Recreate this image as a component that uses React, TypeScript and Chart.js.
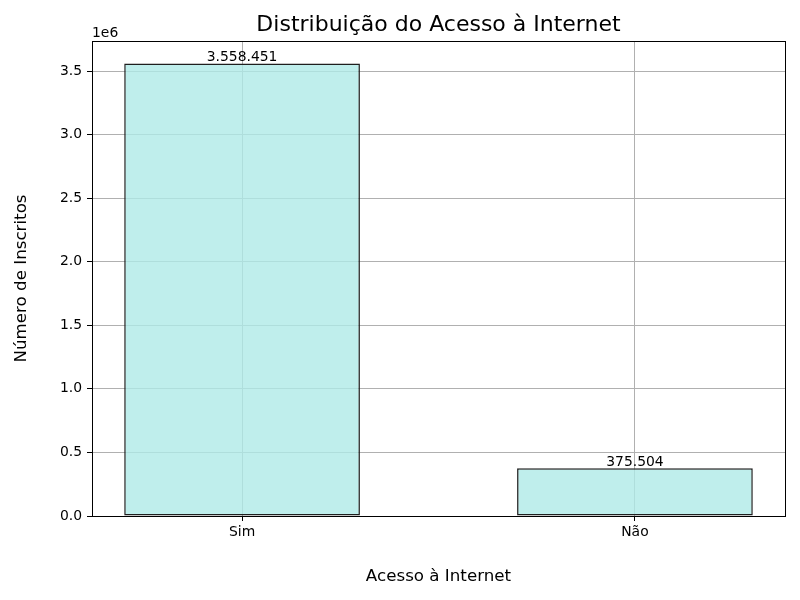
import React, { useEffect, useRef } from "react";
import { Chart, registerables } from "chart.js";

Chart.register(...registerables);

const categories = ["Sim", "Não"];
const inscritos = [3558451, 375504];
const yTickStep = 500000;
const titleText = "Distribuição do Acesso à Internet";
const xTitle = "Acesso à Internet";
const yTitle = "Número de Inscritos";
const offsetText = "1e6";

const FONT = "'DejaVu Sans', sans-serif";

export default function App() {
  const ref = useRef<HTMLCanvasElement | null>(null);
  useEffect(() => {
    if (!ref.current) return;
    const yMax = Math.max(...inscritos) * 1.05;
    const fmt = (v: number) => v.toLocaleString("pt-BR");
    const extras = {
      id: "extras",
      afterDatasetsDraw(chart: any) {
        const { ctx, chartArea } = chart;
        ctx.save();
        const meta = chart.getDatasetMeta(0);
        ctx.fillStyle = "#000";
        ctx.font = `13.9px ${FONT}`;
        ctx.textAlign = "center";
        ctx.textBaseline = "bottom";
        meta.data.forEach((el: any, i: number) => {
          ctx.fillText(fmt(inscritos[i]), el.x, el.y + 1);
        });
        ctx.strokeStyle = "#000";
        ctx.lineWidth = 1;
        ctx.strokeRect(
          Math.round(chartArea.left) + 0.5,
          Math.round(chartArea.top) + 0.5,
          Math.round(chartArea.right - chartArea.left),
          Math.round(chartArea.bottom - chartArea.top)
        );
        ctx.textAlign = "left";
        ctx.textBaseline = "alphabetic";
        ctx.font = `13.9px ${FONT}`;
        ctx.fillText(offsetText, chartArea.left, chartArea.top - 4);
        ctx.textAlign = "center";
        ctx.textBaseline = "middle";
        ctx.font = `22px ${FONT}`;
        ctx.fillText(titleText, (chartArea.left + chartArea.right) / 2, 25);
        ctx.restore();
      },
    };
    const gridOpts = {
      color: "#b0b0b0",
      lineWidth: 1,
      tickColor: "#000",
      tickLength: 5,
      tickWidth: 1,
      offset: false,
    };
    const chart = new Chart(ref.current, {
      type: "bar",
      data: {
        datasets: [
          {
            data: categories.map((c, i) => ({ x: i, y: inscritos[i] })),
            backgroundColor: "rgba(175,234,231,0.8)",
            borderColor: "#1f1f1f",
            borderWidth: 1.5,
            borderSkipped: false,
            categoryPercentage: 1,
            barPercentage: 0.6,
          },
        ],
      },
      options: {
        responsive: false,
        animation: false,
        layout: { padding: { top: 41, right: 15, left: 0, bottom: 0 } },
        plugins: {
          legend: { display: false },
          tooltip: { enabled: false },
          title: { display: false },
        },
        scales: {
          x: {
            type: "linear",
            offset: false,
            min: -0.382,
            max: 1.382,
            afterBuildTicks: (s: any) => {
              s.ticks = categories.map((_, i) => ({ value: i }));
            },
            afterFit: (s: any) => {
              s.height = 84;
            },
            ticks: {
              callback: (v: any) => categories[v as number] ?? "",
              color: "#000",
              font: { family: FONT, size: 13.9 },
              padding: 3,
              maxRotation: 0,
              autoSkip: false,
            },
            grid: gridOpts,
            border: { display: true, color: "#000", width: 1 },
            title: {
              display: true,
              text: xTitle,
              color: "#000",
              font: { family: FONT, size: 16.7 },
              padding: { top: 13, bottom: 13 },
            },
          },
          y: {
            min: 0,
            max: yMax,
            afterBuildTicks: (s: any) => {
              const t: any[] = [];
              for (let v = 0; v <= yMax; v += yTickStep) t.push({ value: v });
              s.ticks = t;
            },
            afterFit: (s: any) => {
              s.width = 92;
            },
            ticks: {
              callback: (v: any) => ((v as number) / 1e6).toFixed(1),
              color: "#000",
              font: { family: FONT, size: 13.9 },
              padding: 5,
              autoSkip: false,
            },
            grid: gridOpts,
            border: { display: true, color: "#000", width: 1 },
            title: {
              display: true,
              text: yTitle,
              color: "#000",
              font: { family: FONT, size: 16.7 },
              padding: { top: 12, bottom: 12 },
            },
          },
        },
      },
      plugins: [extras],
    } as any);
    return () => chart.destroy();
  }, []);
  return (
    <div style={{ position: "fixed", left: 0, top: 0, width: 800, height: 600, background: "#fff" }}>
      <canvas ref={ref} width={800} height={600} />
    </div>
  );
}
